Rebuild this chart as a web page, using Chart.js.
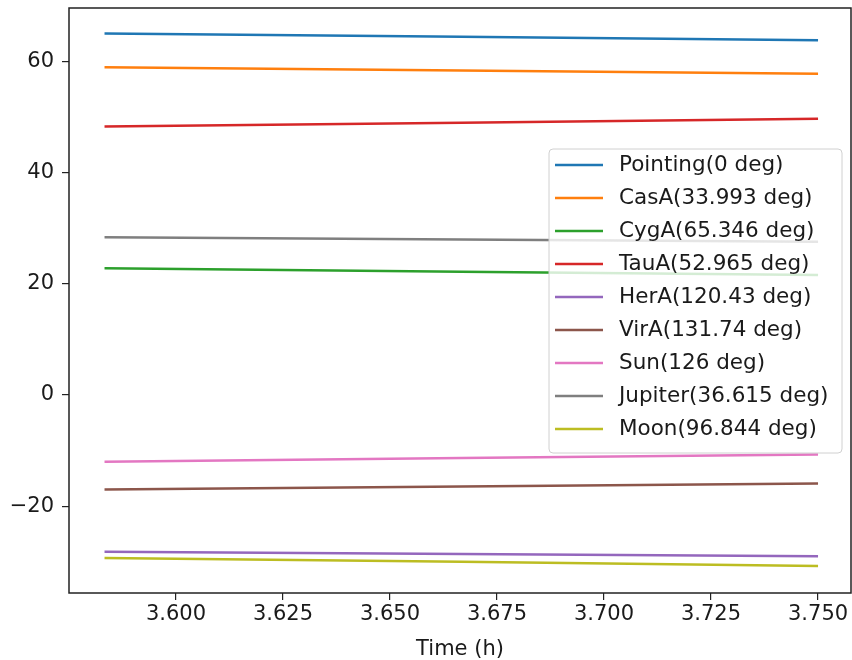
<!DOCTYPE html>
<html>
<head>
<meta charset="utf-8">
<script src="https://cdn.jsdelivr.net/npm/chart.js@4"></script>
<style>
  html, body { margin: 0; padding: 0; background: #fff; }
  #wrap { width: 852px; height: 660px; }
</style>
</head>
<body>
<div id="wrap"><canvas id="grafico" width="852" height="660"></canvas></div>
<script>
// time in hours
const times = [3.5833, 3.6667, 3.75];

const names = ["Pointing(0 deg)", "CasA(33.993 deg)", "CygA(65.346 deg)", "TauA(52.965 deg)",
    "HerA(120.43 deg)", "VirA(131.74 deg)", "Sun(126 deg)", "Jupiter(36.615 deg)", "Moon(96.844 deg)"];

const pointing = [65.05, 64.45, 63.85];
const casA = [59.0, 58.4, 57.8];
const cygA = [22.8, 22.2, 21.6];
const tauA = [48.3, 49.0, 49.7];
const herA = [-28.2, -28.6, -29.0];
const virA = [-17.0, -16.45, -15.9];
const sun = [-12.0, -11.35, -10.7];
const jupiter = [28.4, 28.0, 27.6];
const moon = [-29.3, -30.0, -30.75];

const xTicks = [3.600, 3.625, 3.650, 3.675, 3.700, 3.725, 3.750];
const yTicks = [-20, 0, 20, 40, 60];

const colores = ["#1f77b4", "#ff7f0e", "#2ca02c", "#d62728", "#9467bd",
    "#8c564b", "#e377c2", "#7f7f7f", "#bcbd22"];

document.addEventListener("DOMContentLoaded", function() {
    let ctx = document.getElementById("grafico").getContext("2d");
    const series = [pointing, casA, cygA, tauA, herA, virA, sun, jupiter, moon];
    const fuente = "'DejaVu Sans', sans-serif";

    let datasets = series.map(function(s, i) {
        return {
            label: names[i],
            data: s.map(function(v, j) { return { x: times[j], y: v }; }),
            borderColor: colores[i],
            backgroundColor: colores[i],
            borderWidth: 2.5,
            pointRadius: 0,
            tension: 0
        };
    });

    // legend box inside the plot + frame around the plot area
    const marco = {
        id: "marco",
        afterDatasetsDraw(chart) {
            const c = chart.ctx;
            const x0 = 549, y0 = 149, w = 293, h = 304;
            c.save();
            c.beginPath();
            c.roundRect(x0, y0, w, h, 4);
            c.fillStyle = "rgba(255,255,255,0.8)";
            c.fill();
            c.strokeStyle = "#d0d0d0";
            c.lineWidth = 1;
            c.stroke();
            c.font = "21.5px " + fuente;
            c.textBaseline = "middle";
            c.fillStyle = "#1a1a1a";
            chart.data.datasets.forEach(function(ds, i) {
                const y = 165 + i * 33;
                c.beginPath();
                c.moveTo(555, y);
                c.lineTo(603, y);
                c.strokeStyle = ds.borderColor;
                c.lineWidth = 2.5;
                c.stroke();
                c.fillText(ds.label, 619, y);
            });
            const a = chart.chartArea;
            c.strokeStyle = "#222";
            c.lineWidth = 1.5;
            c.strokeRect(a.left, a.top, a.right - a.left, a.bottom - a.top);
            c.restore();
        }
    };

    new Chart(ctx, {
        type: "line",
        data: { datasets: datasets },
        options: {
            responsive: false,
            animation: false,
            layout: { padding: { top: 8, right: 1, left: 0, bottom: 0 } },
            plugins: {
                legend: { display: false },
                tooltip: { enabled: false }
            },
            scales: {
                x: {
                    type: "linear",
                    min: 3.575,
                    max: 3.7577,
                    afterFit: function(s) { s.height = 67; s.paddingLeft = 0; s.paddingRight = 0; },
                    afterBuildTicks: function(s) { s.ticks = xTicks.map(function(v) { return { value: v }; }); },
                    grid: { display: true, drawOnChartArea: false, drawTicks: true, tickLength: 7, color: "#222", lineWidth: 1.2 },
                    border: { display: false },
                    ticks: {
                        padding: 2,
                        maxRotation: 0,
                        color: "#1a1a1a",
                        font: { family: fuente, size: 21 },
                        callback: function(v) { return Number(v).toFixed(3); }
                    },
                    title: {
                        display: true,
                        text: "Time (h)",
                        color: "#1a1a1a",
                        font: { family: fuente, size: 21 },
                        padding: { top: 0, bottom: -2 }
                    }
                },
                y: {
                    min: -35.62,
                    max: 69.64,
                    afterFit: function(s) { s.width = 69; s.paddingTop = 0; s.paddingBottom = 0; },
                    afterBuildTicks: function(s) { s.ticks = yTicks.map(function(v) { return { value: v }; }); },
                    grid: { display: true, drawOnChartArea: false, drawTicks: true, tickLength: 7, color: "#222", lineWidth: 1.2 },
                    border: { display: false },
                    ticks: {
                        padding: 8,
                        color: "#1a1a1a",
                        font: { family: fuente, size: 21 },
                        callback: function(v) { return String(v).replace("-", "\u2212"); }
                    }
                }
            }
        },
        plugins: [marco]
    });
});
</script>
</body>
</html>
